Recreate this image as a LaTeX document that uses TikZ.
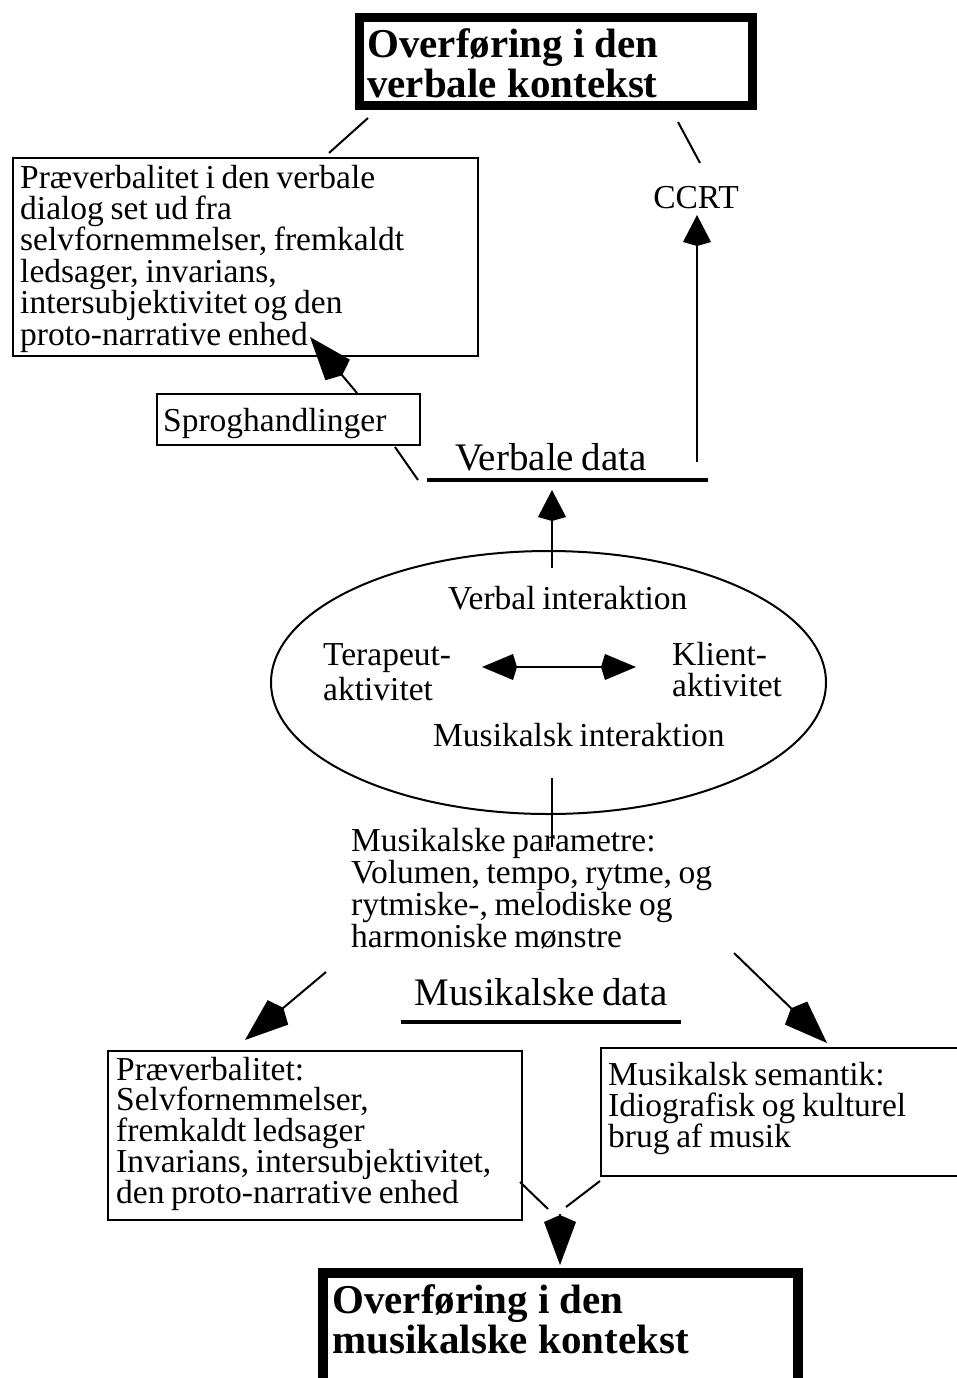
\documentclass[tikz,border=0pt]{standalone}
\usepackage{fontspec}
\setmainfont{Liberation Serif}[WordSpace=0.8]
\usetikzlibrary{arrows.meta,shapes.geometric}
\begin{document}
\begin{tikzpicture}[x=1pt,y=-1pt,
  body/.style={font=\fontsize{33.5}{31.4}\selectfont, inner sep=0pt, anchor=base west, align=left,
    execute at begin node={\spaceskip=0.2em\relax}},
  big/.style={font=\fontsize{39}{40}\selectfont, inner sep=0pt, anchor=base},
  title/.style={font=\fontsize{41}{40}\selectfont\bfseries, inner sep=0pt, anchor=base west, align=left, text width=470pt,
    execute at begin node={\spaceskip=0.25em\relax}},
  frame/.style={draw, line width=2pt, inner sep=0pt, anchor=north west},
  heavy/.style={draw, line width=9pt, inner sep=0pt, anchor=north west},
  link/.style={line width=2pt},
  shaft/.style={line width=2.5pt},
  bar/.style={line width=4.5pt},
  bighead/.tip={Kite[length=50pt,width=32pt,inset=7pt]},
  smallhead/.tip={Kite[length=31pt,width=28pt,inset=4pt]},
  pairhead/.tip={Kite[length=35pt,width=26pt,inset=4pt]},
]
\fill[white] (0,0) rectangle (957,1378);
\useasboundingbox (0,0) rectangle (957,1378);

% ---- verbal context (top) ----
\node[heavy, minimum width=393pt, minimum height=88pt] (vbox) at (355,13) {};
\node[title] (vtitle) at (367,58) {Overføring i den\\verbale kontekst};

\node[body, anchor=base] (ccrt) at (696,208) {CCRT};

\node[frame, minimum width=465pt, minimum height=198pt] (pvbox) at (12,157) {};
\node[body, text width=455pt] (pvtext) at (20,188) {Præverbalitet i den verbale\\dialog set ud fra\\selvfornemmelser, fremkaldt\\ledsager, invarians,\\intersubjektivitet og den\\proto-narrative enhed};

\node[frame, minimum width=263pt, minimum height=51pt] (sbox) at (156,393) {};
\node[body] (stext) at (163,431) {Sproghandlinger};

\node[big] (vdata) at (551,470) {Verbale data};

\coordinate (vb-l) at (368,118);
\coordinate (pv-t) at (329,153);
\coordinate (vb-r) at (678,122);
\coordinate (cc-t) at (700,163);
\coordinate (sp-t) at (357,393);
\coordinate (pv-in) at (310,337);
\coordinate (sp-b) at (395,447);
\coordinate (vd-l) at (427,480);
\coordinate (vd-r) at (708,480);
\coordinate (vd-end) at (418,480);
\coordinate (cc-foot) at (697,462);
\coordinate (cc-tip) at (697,215);
\coordinate (vi-top) at (552,568);
\coordinate (vd-tip) at (552,490);

\draw[link] (vb-l) -- (pv-t);
\draw[link] (vb-r) -- (cc-t);
\draw[link, -bighead] (sp-t) -- (pv-in);
\draw[link] (sp-b) -- (vd-end);
\draw[bar] (vd-l) -- (vd-r);
\draw[shaft, -smallhead] (cc-foot) -- (cc-tip);
\draw[shaft, -smallhead] (vi-top) -- (vd-tip);

% ---- interaction ----
\node[draw, ellipse, line width=2pt, inner sep=0pt, minimum width=555pt, minimum height=263pt] (inter) at (548.5,682.5) {};
\node[body] (vi) at (448,609) {Verbal interaktion};
\node[body, text width=150pt, font=\fontsize{33.5}{35}\selectfont] (ter) at (323,665) {Terapeut-\\aktivitet};
\node[body, text width=130pt, font=\fontsize{33.5}{31}\selectfont] (kli) at (672,665) {Klient-\\aktivitet};
\node[body] (mi) at (433,746) {Musikalsk interaktion};

\coordinate (ter-tip) at (482,667);
\coordinate (kli-tip) at (636,667);
\draw[link, pairhead-pairhead] (ter-tip) -- (kli-tip);

\coordinate (mi-foot) at (552,778);
\coordinate (mp-top) at (552,847);
\draw[link] (mi-foot) -- (mp-top);

% ---- musical context (bottom) ----
\node[body, text width=420pt, font=\fontsize{33.5}{32}\selectfont] (mp) at (351,851) {Musikalske parametre:\\Volumen, tempo, rytme, og\\rytmiske-, melodiske og\\harmoniske mønstre};

\node[big] (mdata) at (541,1005) {Musikalske data};
\coordinate (md-l) at (401,1022);
\coordinate (md-r) at (681,1022);
\draw[bar] (md-l) -- (md-r);

\coordinate (ml-s) at (326,972);
\coordinate (ml-tip) at (245,1040);
\coordinate (mr-s) at (734,953);
\coordinate (mr-tip) at (827,1043);
\draw[link, -bighead] (ml-s) -- (ml-tip);
\draw[link, -bighead] (mr-s) -- (mr-tip);

\node[frame, minimum width=414pt, minimum height=169pt] (blbox) at (107,1050) {};
\node[body, text width=400pt, font=\fontsize{33.5}{30.8}\selectfont] (bltext) at (116,1080) {Præverbalitet:\\Selvfornemmelser,\\fremkaldt ledsager\\Invarians, intersubjektivitet,\\den proto-narrative enhed};

\node[frame, minimum width=372pt, minimum height=128pt] (rbox) at (600,1047) {};
\node[body, text width=340pt] (rtext) at (608,1085) {Musikalsk semantik:\\Idiografisk og kulturel\\brug af musik};

\coordinate (bl-c) at (520,1182);
\coordinate (bl-e) at (548,1209);
\coordinate (br-c) at (600,1181);
\coordinate (br-e) at (566,1207);
\draw[link] (bl-c) -- (bl-e);
\draw[link] (br-c) -- (br-e);

\node[heavy, line width=10pt, minimum width=475pt, minimum height=200pt] (mbox) at (318,1268) {};
\node[title] (mtitle) at (332,1313) {Overføring i den\\musikalske kontekst};

\coordinate (mb-back) at (560,1214);
\coordinate (mb-tip) at (560,1265);
\draw[link, -bighead] (mb-back) -- (mb-tip);
\end{tikzpicture}
\end{document}
